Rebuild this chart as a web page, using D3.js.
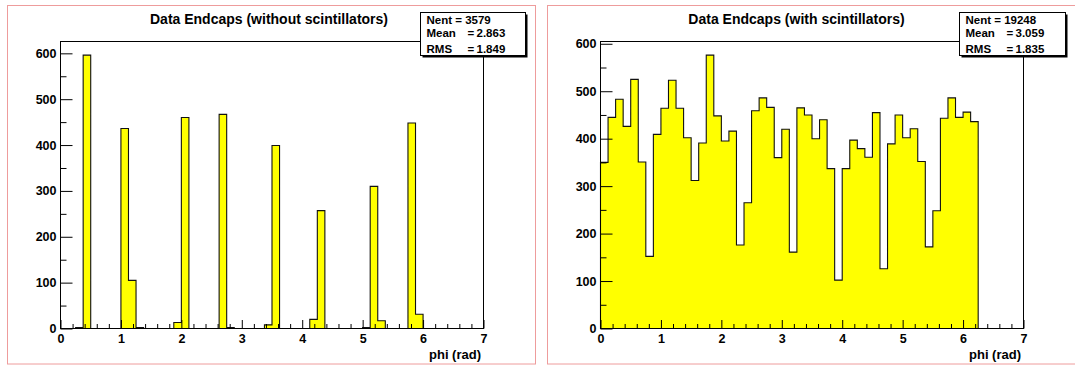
<!DOCTYPE html>
<html><head><meta charset="utf-8">
<script src="https://cdn.jsdelivr.net/npm/d3@7"></script>
<style>
html,body{margin:0;padding:0;background:#fff;}
svg{display:block;}
text{font-family:"Liberation Sans",Arial,Helvetica,sans-serif;font-weight:bold;fill:#000;}
</style></head><body>
<svg id="c" width="1075" height="365"></svg>
<script>
// ---------------- data ----------------
const titles = ["Data Endcaps (without scintillators)", "Data Endcaps (with scintillators)"];
const xLabel = "phi (rad)";
const xRange = [0, 7];
const nBins = 56;
const countsWithout = [0,0,2,596,0,0,0,0, 436,105,2,0,0,0,0,13, 460,0,0,0,0,467,2,0, 0,0,0,8,399,0,0,0,
                       0,20,257,0,0,0,0,0, 2,310,17,0,0,0,448,31, 0,0,0,0,0,0,0,0];
const countsWith = [350,445,483,426,525,351,152,409, 464,523,464,402,312,391,576,448, 395,416,176,265,459,486,466,360,
                    420,161,465,450,400,440,337,102, 337,397,379,361,455,126,389,450, 402,421,352,172,248,443,486,445,
                    456,436,0,0,0,0,0,0];
const statNames = ["Nent", "Mean", "RMS"];
const statsWithout = ["3579", "2.863", "1.849"];
const statsWith = ["19248", "3.059", "1.835"];
const xTicks = [0,1,2,3,4,5,6,7];
const yTicks = [0,100,200,300,400,500,600];

// ---------------- layout ----------------
const svg = d3.select("#c");
const panels = [
  {counts: countsWithout, stats: statsWithout, title: titles[0],
   pad:{x:7.5,y:5.5,w:528,h:358.5}, fx0:60.5, fx1:483.5, fy0:41.5, fy1:328.5, titleX:269,
   box:{x:420.5,y:12.5,w:105,h:43}},
  {counts: countsWith, stats: statsWith, title: titles[1],
   pad:{x:547.5,y:5.5,w:528,h:358.5}, fx0:600.5, fx1:1023.5, fy0:41.5, fy1:328.5, titleX:796.5,
   box:{x:959.5,y:12.5,w:106,h:43}}
];

const binW = (xRange[1]-xRange[0])/nBins;

panels.forEach(p => {
  const g = svg.append("g");
  // pad border
  g.append("rect").attr("x",p.pad.x).attr("y",p.pad.y).attr("width",p.pad.w).attr("height",p.pad.h)
    .attr("fill","#fff").attr("stroke","#ee9c9c").attr("stroke-width",1);

  const maxC = d3.max(p.counts);
  const x = d3.scaleLinear().domain(xRange).range([p.fx0, p.fx1]);
  const y = d3.scaleLinear().domain([0, maxC*1.05]).range([p.fy1, p.fy0]);

  // histogram step polygon
  const pts = [[xRange[0],0]];
  p.counts.forEach((c,i) => { pts.push([xRange[0]+i*binW, c]); pts.push([xRange[0]+(i+1)*binW, c]); });
  pts.push([xRange[1],0]);
  const line = d3.line().x(d=>x(d[0])).y(d=>y(d[1]));
  g.append("path").attr("d", line(pts)+"Z").attr("fill","#ffff00").attr("stroke","#111").attr("stroke-width",1.1)
    .attr("stroke-linejoin","miter");

  // frame
  g.append("rect").attr("x",p.fx0).attr("y",p.fy0).attr("width",p.fx1-p.fx0).attr("height",p.fy1-p.fy0)
    .attr("fill","none").attr("stroke","#000").attr("stroke-width",1);

  // x axis
  const xMinor = d3.range(0, 35).map(i => i*0.2).filter(v => Math.abs(v-Math.round(v))>1e-6 && v<7);
  const xa = g.append("g").attr("transform",`translate(0,${p.fy1})`)
    .call(d3.axisBottom(x).tickValues(xTicks).tickSize(-8.5).tickPadding(6).tickFormat(d3.format("d")));
  xa.select(".domain").remove();
  xa.selectAll("text").style("font-size","12.5px");
  const xm = g.append("g").attr("transform",`translate(0,${p.fy1})`)
    .call(d3.axisBottom(x).tickValues(xMinor).tickSize(-4.5).tickFormat(""));
  xm.select(".domain").remove();

  // y axis
  const yMinor = d3.range(50, maxC*1.05, 100);
  const ya = g.append("g").attr("transform",`translate(${p.fx0},0)`)
    .call(d3.axisLeft(y).tickValues(yTicks).tickSize(-12).tickPadding(4).tickFormat(d3.format("d")));
  ya.select(".domain").remove();
  ya.selectAll("text").style("font-size","12.5px");
  const ym = g.append("g").attr("transform",`translate(${p.fx0},0)`)
    .call(d3.axisLeft(y).tickValues(yMinor).tickSize(-6).tickFormat(""));
  ym.select(".domain").remove();
  g.selectAll(".tick line").attr("stroke","#000");

  // axis title
  g.append("text").attr("x",p.fx1-2.5).attr("y",359).attr("text-anchor","end")
    .style("font-size","13px").text(xLabel);

  // title
  g.append("text").attr("x",p.titleX).attr("y",23.5).attr("text-anchor","middle")
    .style("font-size","14px").text(p.title);

  // stats box
  const b = p.box;
  g.append("rect").attr("x",b.x+2).attr("y",b.y+2).attr("width",b.w).attr("height",b.h).attr("fill","#000");
  g.append("rect").attr("x",b.x).attr("y",b.y).attr("width",b.w).attr("height",b.h)
    .attr("fill","#fff").attr("stroke","#000").attr("stroke-width",1);
  const rowsY = [23.8, 37.3, 52.6];
  g.append("text").attr("x",b.x+6).attr("y",rowsY[0]).style("font-size","11.5px")
    .text(statNames[0] + " = " + p.stats[0]);
  [1,2].forEach(k => {
    g.append("text").attr("x",b.x+6).attr("y",rowsY[k]).style("font-size","11.5px").text(statNames[k]);
    g.append("text").attr("x",b.x+47).attr("y",rowsY[k]).style("font-size","11.5px").text("=");
    g.append("text").attr("x",b.x+56).attr("y",rowsY[k]).style("font-size","11.5px").text(p.stats[k]);
  });
});
</script>
</body></html>
